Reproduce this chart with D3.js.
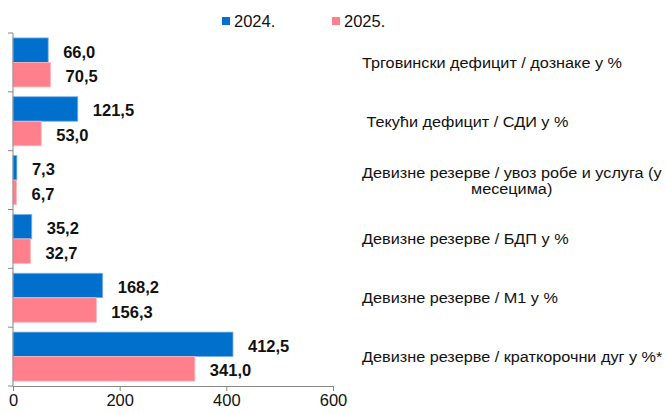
<!DOCTYPE html>
<html>
<head>
<meta charset="utf-8">
<script src="https://cdn.jsdelivr.net/npm/d3@7"></script>
<style>
  body { margin: 0; background: #ffffff; }
  svg { display: block; font-family: Arial, "Liberation Sans", sans-serif; }
</style>
</head>
<body>
<div id="chart"></div>
<script>
// Chart data
const categories = [
  'Трговински дефицит / дознаке у %',
  ' Текући дефицит / СДИ у %',
  'Девизне резерве / увоз робе и услуга (у\nмесецима)',
  'Девизне резерве / БДП у %',
  'Девизне резерве / М1 у %',
  'Девизне резерве / краткорочни дуг у %*'
];
const seriesNames = ['2024.', '2025.'];
const values2024 = [66.0, 121.5, 7.3, 35.2, 168.2, 412.5];
const values2025 = [70.5, 53.0, 6.7, 32.7, 156.3, 341.0];
const xTicks = [0, 200, 400, 600];

const colors = ['#0070CC', '#FF808C'];
const strokes = ['#7FB5E6', '#FFB8BE'];

const width = 665;
const height = 414;
const plot = { left: 13, right: 333, top: 33, bottom: 386 };

const svg = d3.select('#chart')
  .append('svg')
  .attr('width', width)
  .attr('height', height);

// Scales
const x = d3.scaleLinear()
  .domain([0, 600])
  .range([plot.left, plot.right]);

const y = d3.scaleBand()
  .domain(categories)
  .range([plot.top, plot.bottom])
  .padding(0);

const ySub = d3.scaleBand()
  .domain(seriesNames)
  .range([0, y.bandwidth()])
  .paddingInner(0)
  .paddingOuter(0.2);

const rows = categories.map((c, i) => ({
  category: c,
  values: [values2024[i], values2025[i]]
}));

// Bars
const groups = svg.selectAll('.group')
  .data(rows)
  .enter()
  .append('g')
  .attr('class', 'group')
  .attr('transform', d => `translate(0,${y(d.category)})`);

groups.selectAll('rect')
  .data(d => d.values.map((v, i) => ({ v, i })))
  .enter()
  .append('rect')
  .attr('x', x(0))
  .attr('y', d => ySub(seriesNames[d.i]))
  .attr('width', d => x(d.v) - x(0))
  .attr('height', ySub.bandwidth())
  .attr('fill', d => colors[d.i])
  .attr('stroke', d => strokes[d.i])
  .attr('stroke-width', 0.8);

// Value labels
groups.selectAll('.val')
  .data(d => d.values.map((v, i) => ({ v, i })))
  .enter()
  .append('text')
  .attr('class', 'val')
  .attr('x', d => x(d.v) + 15)
  .attr('y', d => ySub(seriesNames[d.i]) + ySub.bandwidth() / 2 + 7.5)
  .style('font-size', '16.5px')
  .style('font-weight', 700)
  .style('fill', '#111')
  .text(d => d.v.toFixed(1).replace('.', ','));

// Category labels on the right (the original text is a bit wide, so stretch it)
const labelX = 362;
const stretch = 1.16;
const catText = svg.selectAll('.cat')
  .data(categories)
  .enter()
  .append('text')
  .attr('class', 'cat')
  .attr('transform', d => `translate(${labelX},${y(d) + y.bandwidth() / 2}) scale(${stretch},1)`)
  .style('font-size', '14px')
  .style('fill', '#111')
  .style('white-space', 'pre');

catText.each(function(d) {
  const lines = d.split('\n');
  const lh = 16;
  const t = d3.select(this);
  lines.forEach((ln, j) => {
    t.append('tspan')
      .attr('x', j === 0 ? 0 : (471 - labelX) / stretch)
      .attr('y', 5.5 + (j - (lines.length - 1) / 2) * lh)
      .text(ln);
  });
});

// Axes
const axisColor = '#868686';

const xAxis = svg.append('g')
  .attr('transform', `translate(0,${plot.bottom})`)
  .call(d3.axisBottom(x).tickValues(xTicks).tickSize(5).tickSizeOuter(0).tickPadding(3));
xAxis.select('.domain').attr('stroke', axisColor);
xAxis.selectAll('.tick line').attr('stroke', axisColor);
xAxis.selectAll('.tick text')
  .style('font-size', '16.5px')
  .style('font-family', 'Arial, "Liberation Sans", sans-serif')
  .attr('fill', '#111');

// Left axis with ticks at category boundaries
const bounds = categories.map(c => y(c)).concat([plot.bottom]);
const yAxis = svg.append('g');
yAxis.append('line')
  .attr('x1', plot.left).attr('x2', plot.left)
  .attr('y1', plot.top).attr('y2', plot.bottom)
  .attr('stroke', axisColor);
yAxis.selectAll('.btick')
  .data(bounds)
  .enter()
  .append('line')
  .attr('x1', plot.left - 5).attr('x2', plot.left)
  .attr('y1', d => d).attr('y2', d => d)
  .attr('stroke', axisColor);

// Legend
const legendX = [222, 332];
const legend = svg.selectAll('.legend')
  .data(seriesNames)
  .enter()
  .append('g')
  .attr('class', 'legend')
  .attr('transform', (d, i) => `translate(${legendX[i]},17)`);

legend.append('rect')
  .attr('width', 8)
  .attr('height', 8)
  .attr('fill', (d, i) => colors[i]);

legend.append('text')
  .attr('x', 12)
  .attr('y', 9.5)
  .style('font-size', '16.5px')
  .style('fill', '#111')
  .text(d => d);
</script>
</body>
</html>
